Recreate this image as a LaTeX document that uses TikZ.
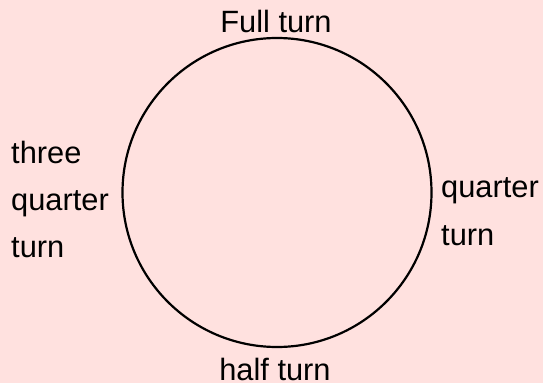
\documentclass[tikz,border=0pt]{standalone}
\usepackage{fontspec}
\setmainfont{Liberation Sans}
\definecolor{bgpink}{HTML}{FFE1DF}
\begin{document}
\begin{tikzpicture}[x=1pt,y=-1pt,
  lbl/.style={inner sep=0pt,font=\fontsize{30.8}{36}\selectfont,text=black}]
\useasboundingbox (0,0) rectangle (543,383);
\fill[bgpink] (0,0) rectangle (543,383);
\node[circle,draw=black,line width=2.2pt,minimum size=309pt,inner sep=0pt] (c) at (277,192.5) {};
\node[lbl,anchor=base] (full) at (276,32.3) {Full turn};
\node[lbl,anchor=base] (half) at (275,380) {half turn};
\node[lbl,anchor=base west] (tq1) at (11,163) {three};
\node[lbl,anchor=base west] (tq2) at (11,210) {quarter};
\node[lbl,anchor=base west] (tq3) at (11,257) {turn};
\node[lbl,anchor=base west] (q1) at (441,197) {quarter};
\node[lbl,anchor=base west] (q2) at (441,245) {turn};
\end{tikzpicture}
\end{document}
